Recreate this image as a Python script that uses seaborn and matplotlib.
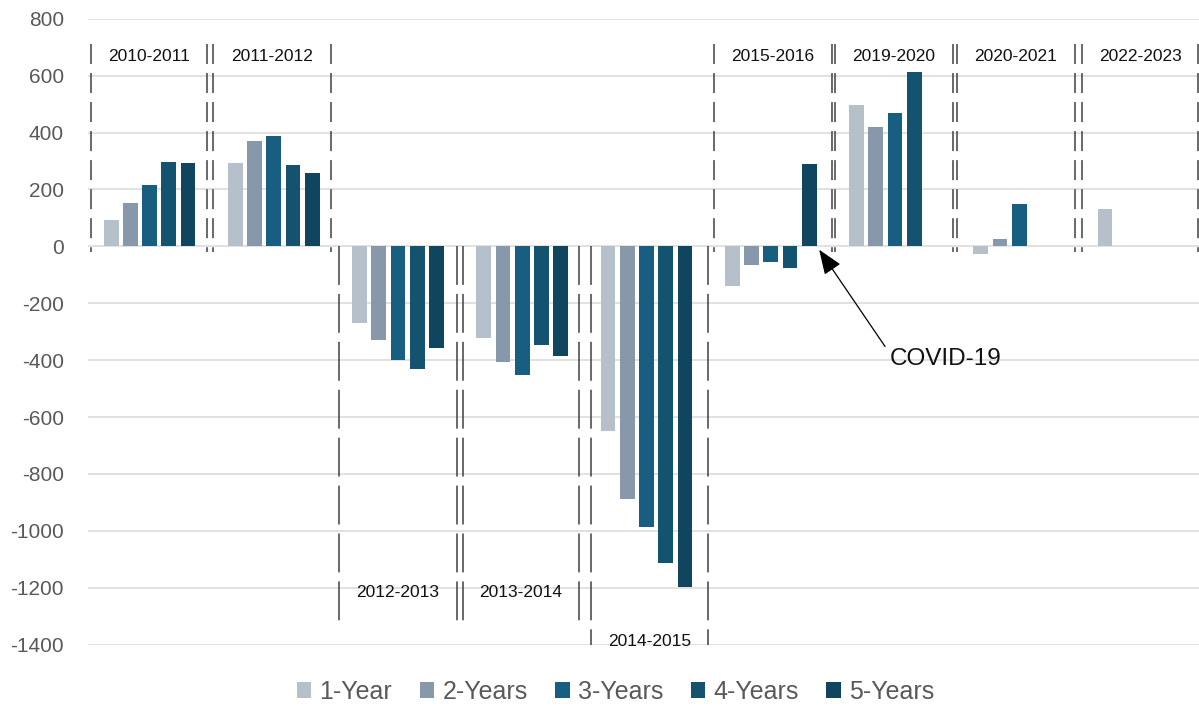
import numpy as np
import pandas as pd
import matplotlib
matplotlib.use("Agg")
import matplotlib.pyplot as plt
import seaborn as sns

# ---------------- data ----------------
periods = ["2010-2011", "2011-2012", "2012-2013", "2013-2014", "2014-2015",
           "2015-2016", "2019-2020", "2020-2021", "2022-2023"]
series_names = ["1-Year", "2-Years", "3-Years", "4-Years", "5-Years"]
one_year = [92, 293, -271, -322, -648, -138, 495, -27, 131]
two_years = [153, 371, -328, -408, -889, -66, 421, 26, None]
three_years = [216, 387, -399, -452, -988, -56, 470, 150, None]
four_years = [298, 285, -433, -347, -1112, -77, 613, None, None]
five_years = [293, 256, -356, -386, -1196, 291, None, None, None]
y_ticks = list(range(-1400, 801, 200))
label_side = ["top", "top", "bottom", "bottom", "bottom", "top", "top", "top", "top"]
annotation_text = "COVID-19"

colors = ["#b6c0ca", "#8698aa", "#175e80", "#13536f", "#0f455f"]

rows = []
for name, vals in zip(series_names, [one_year, two_years, three_years, four_years, five_years]):
    for p, v in zip(periods, vals):
        if v is not None:
            rows.append({"Period": p, "Series": name, "Value": v})
df = pd.DataFrame(rows)

# ---------------- style ----------------
sns.set_theme(style="white")
plt.rcParams["font.family"] = ["Liberation Sans", "DejaVu Sans"]
plt.rcParams["lines.scale_dashes"] = False
plt.rcParams["axes.unicode_minus"] = False

W, H = 1199, 706
fig = plt.figure(figsize=(W / 100, H / 100), dpi=100)
ax = fig.add_axes([87.5 / W, 1 - 644.6 / H, 1118 / W, 625.9 / H])

sns.barplot(data=df, x="Period", y="Value", hue="Series",
            order=periods, hue_order=series_names, palette=colors,
            width=0.773, gap=0.23, dodge=True, errorbar=None,
            saturation=1, linewidth=0, ax=ax, zorder=3)

ax.set_xlim(-0.5, len(periods) - 0.5)
ax.set_ylim(-1400, 800)
ax.set_yticks(y_ticks)
ax.set_xticks([])
ax.set_xlabel("")
ax.set_ylabel("")
ax.tick_params(axis="y", length=0, pad=17, labelsize=15, labelcolor="#595959")
ax.grid(axis="y", color="#d9d9d9", linewidth=1.1, zorder=0)
ax.set_axisbelow(True)
for s in ax.spines.values():
    s.set_visible(False)

# ---------------- period boxes ----------------
box_left = [-0.472, 0.510, 1.525, 2.520, 3.554, 4.544, 5.518, 6.500, 7.507]
box_right = [0.462, 1.460, 2.472, 3.457, 4.496, 5.494, 6.468, 7.450, 8.441]
line_kw = dict(color="#404040", linewidth=1.1, clip_on=False, zorder=4)
for i, p in enumerate(periods):
    side = label_side[i]
    if side == "top":
        y0, y1, ylab = 710, -20, 668
        dashes = (14.4, 6.5)
    elif p == "2014-2015":
        y0, y1, ylab = 0, -1400, -1390
        dashes = (28, 6.5)
    else:
        y0, y1, ylab = 0, -1320, -1218
        dashes = (28, 6.5)
    for xe in (box_left[i], box_right[i]):
        ln, = ax.plot([xe, xe], [y0, y1], **line_kw)
        ln.set_dashes(dashes)
    ax.text((box_left[i] + box_right[i]) / 2, ylab, p, ha="center", va="center",
            fontsize=12.5, color="#111111", zorder=5, clip_on=False)

# ---------------- annotation ----------------
ax.annotate(annotation_text, xy=(5.39, -12), xytext=(5.96, -395),
            ha="left", va="center", fontsize=17.5, color="#111111",
            arrowprops=dict(arrowstyle="-|>,head_length=0.9,head_width=0.35",
                            color="black", linewidth=0.9, mutation_scale=17,
                            shrinkA=2, shrinkB=0, relpos=(-0.03, 0.95)),
            zorder=6)

# ---------------- legend ----------------
handles, labels = ax.get_legend_handles_labels()
if ax.get_legend() is not None:
    ax.get_legend().remove()
leg = fig.legend(handles, labels, loc="center", bbox_to_anchor=(615.5 / W, 1 - 692 / H),
                 ncol=5, frameon=False, fontsize=18, handlelength=0.58,
                 handleheight=0.58, handletextpad=0.33, columnspacing=1.1,
                 borderpad=0, borderaxespad=0)
for t in leg.get_texts():
    t.set_color("#595959")

fig.savefig("out.png", dpi=100)
